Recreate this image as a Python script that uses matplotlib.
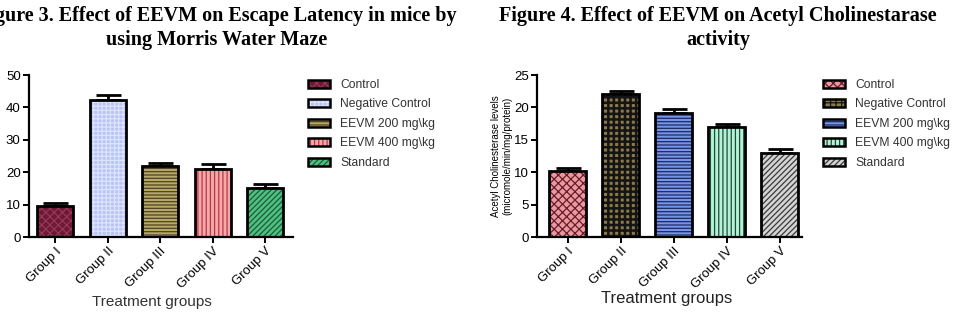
import matplotlib
matplotlib.use("Agg")
import matplotlib.pyplot as plt
from matplotlib.patches import Patch

plt.rcParams['font.family'] = ['Liberation Sans', 'DejaVu Sans']
plt.rcParams['hatch.linewidth'] = 0.9

groups = ['Group I', 'Group II', 'Group III', 'Group IV', 'Group V']
legend_labels = ['Control', 'Negative Control', 'EEVM 200 mg\\kg', 'EEVM 400 mg\\kg', 'Standard']

# Figure 3 - escape latency
latency = [9.7, 42.2, 22.0, 21.0, 15.2]
latency_err = [0.7, 1.5, 0.7, 1.4, 1.2]

# Figure 4 - acetyl cholinesterase
ache = [10.2, 22.1, 19.2, 16.9, 13.0]
ache_err = [0.5, 0.5, 0.5, 0.5, 0.6]

left_face = ['#6e1832', '#b8c4f4', '#b8a868', '#f4a8a8', '#50c080']
left_hatchc = ['#93385a', '#dce4ff', '#4e4222', '#b83848', '#1a5a3a']
left_hatch = ['xxxx', '++++', '-----', '||||', '//////']

right_face = ['#e89aa0', '#8a7a4a', '#7894e4', '#b4f2d6', '#d4d4d4']
right_hatchc = ['#6a1a2a', '#141414', '#1c2a66', '#1e4a3a', '#3a3a3a']
right_hatch = ['xxxx', '+++', '-----', '||||', '//////']
right_hlw = [0.9, 1.8, 0.9, 0.9, 0.9]

fig = plt.figure(figsize=(9.68, 3.18), dpi=100)


def draw_panel(ax, vals, errs, faces, hcols, hatches, hlws, ymax, ystep, xlim):
    x = list(range(len(vals)))
    for i in x:
        with plt.rc_context({'hatch.linewidth': hlws[i]}):
            ax.bar(i, vals[i], width=0.69, color=faces[i], edgecolor=hcols[i],
                   hatch=hatches[i], linewidth=0, zorder=2)
    ax.bar(x, vals, width=0.69, facecolor='none', edgecolor='black',
           linewidth=2, zorder=3)
    ax.errorbar(x, vals, yerr=[[0] * len(errs), errs], fmt='none',
                ecolor='black', elinewidth=2, capsize=9, capthick=2, zorder=1)
    ax.set_xlim(*xlim)
    ax.set_ylim(0, ymax)
    ax.set_yticks(range(0, ymax + 1, ystep))
    ax.set_xticks(x)
    ax.set_xticklabels(groups, rotation=45, ha='right', rotation_mode='anchor',
                       fontsize=9)
    for s in ['top', 'right']:
        ax.spines[s].set_visible(False)
    for s in ['left', 'bottom']:
        ax.spines[s].set_linewidth(1.6)
    ax.tick_params(width=1.4, length=4, labelsize=9.5, pad=2)


def add_legend(faces, hcols, hatches, anchor):
    handles = []
    for f, h, ht in zip(faces, hcols, hatches):
        handles.append((Patch(facecolor=f, edgecolor=h, hatch=ht, linewidth=0),
                        Patch(facecolor='none', edgecolor='black', linewidth=1.8)))
    fig.legend(handles, legend_labels, loc='upper left', bbox_to_anchor=anchor,
               frameon=False, fontsize=8.7, handlelength=1.8, handleheight=0.7,
               handletextpad=0.85, labelspacing=0.62, borderpad=0,
               borderaxespad=0, labelcolor='#333333')


ax1 = fig.add_axes([29 / 968, 81 / 318, 264 / 968, 162 / 318])
draw_panel(ax1, latency, latency_err, left_face, left_hatchc, left_hatch,
           [0.9] * 5, 50, 10, (-0.5, 4.53))
add_legend(left_face, left_hatchc, left_hatch, (308 / 968, 1 - 79 / 318))

ax2 = fig.add_axes([537 / 968, 81 / 318, 265 / 968, 162 / 318])
draw_panel(ax2, ache, ache_err, right_face, right_hatchc, right_hatch,
           right_hlw, 25, 5, (-0.58, 4.42))
ax2.set_ylabel('Acetyl Cholinesterase levels\n(micromole/min/mg/protein)',
               fontsize=7, labelpad=1)
add_legend(right_face, right_hatchc, right_hatch, (823 / 968, 1 - 79 / 318))

fig.text(152 / 968, 1 - 302 / 318, 'Treatment groups', ha='center',
         va='center', fontsize=11, color='#333333')
fig.text(667 / 968, 1 - 299 / 318, 'Treatment groups', ha='center',
         va='center', fontsize=12, color='#222222')

fig.text(217 / 968, 1 - 28 / 318,
         'Figure 3. Effect of EEVM on Escape Latency in mice by\nusing Morris Water Maze',
         ha='center', va='center', fontsize=14.5, fontweight='bold',
         family='Liberation Serif', linespacing=1.2)
fig.text(718 / 968, 1 - 28 / 318,
         'Figure 4. Effect of EEVM on Acetyl Cholinestarase\nactivity',
         ha='center', va='center', fontsize=14.5, fontweight='bold',
         family='Liberation Serif', linespacing=1.2)

fig.savefig('out.png', dpi=100)
